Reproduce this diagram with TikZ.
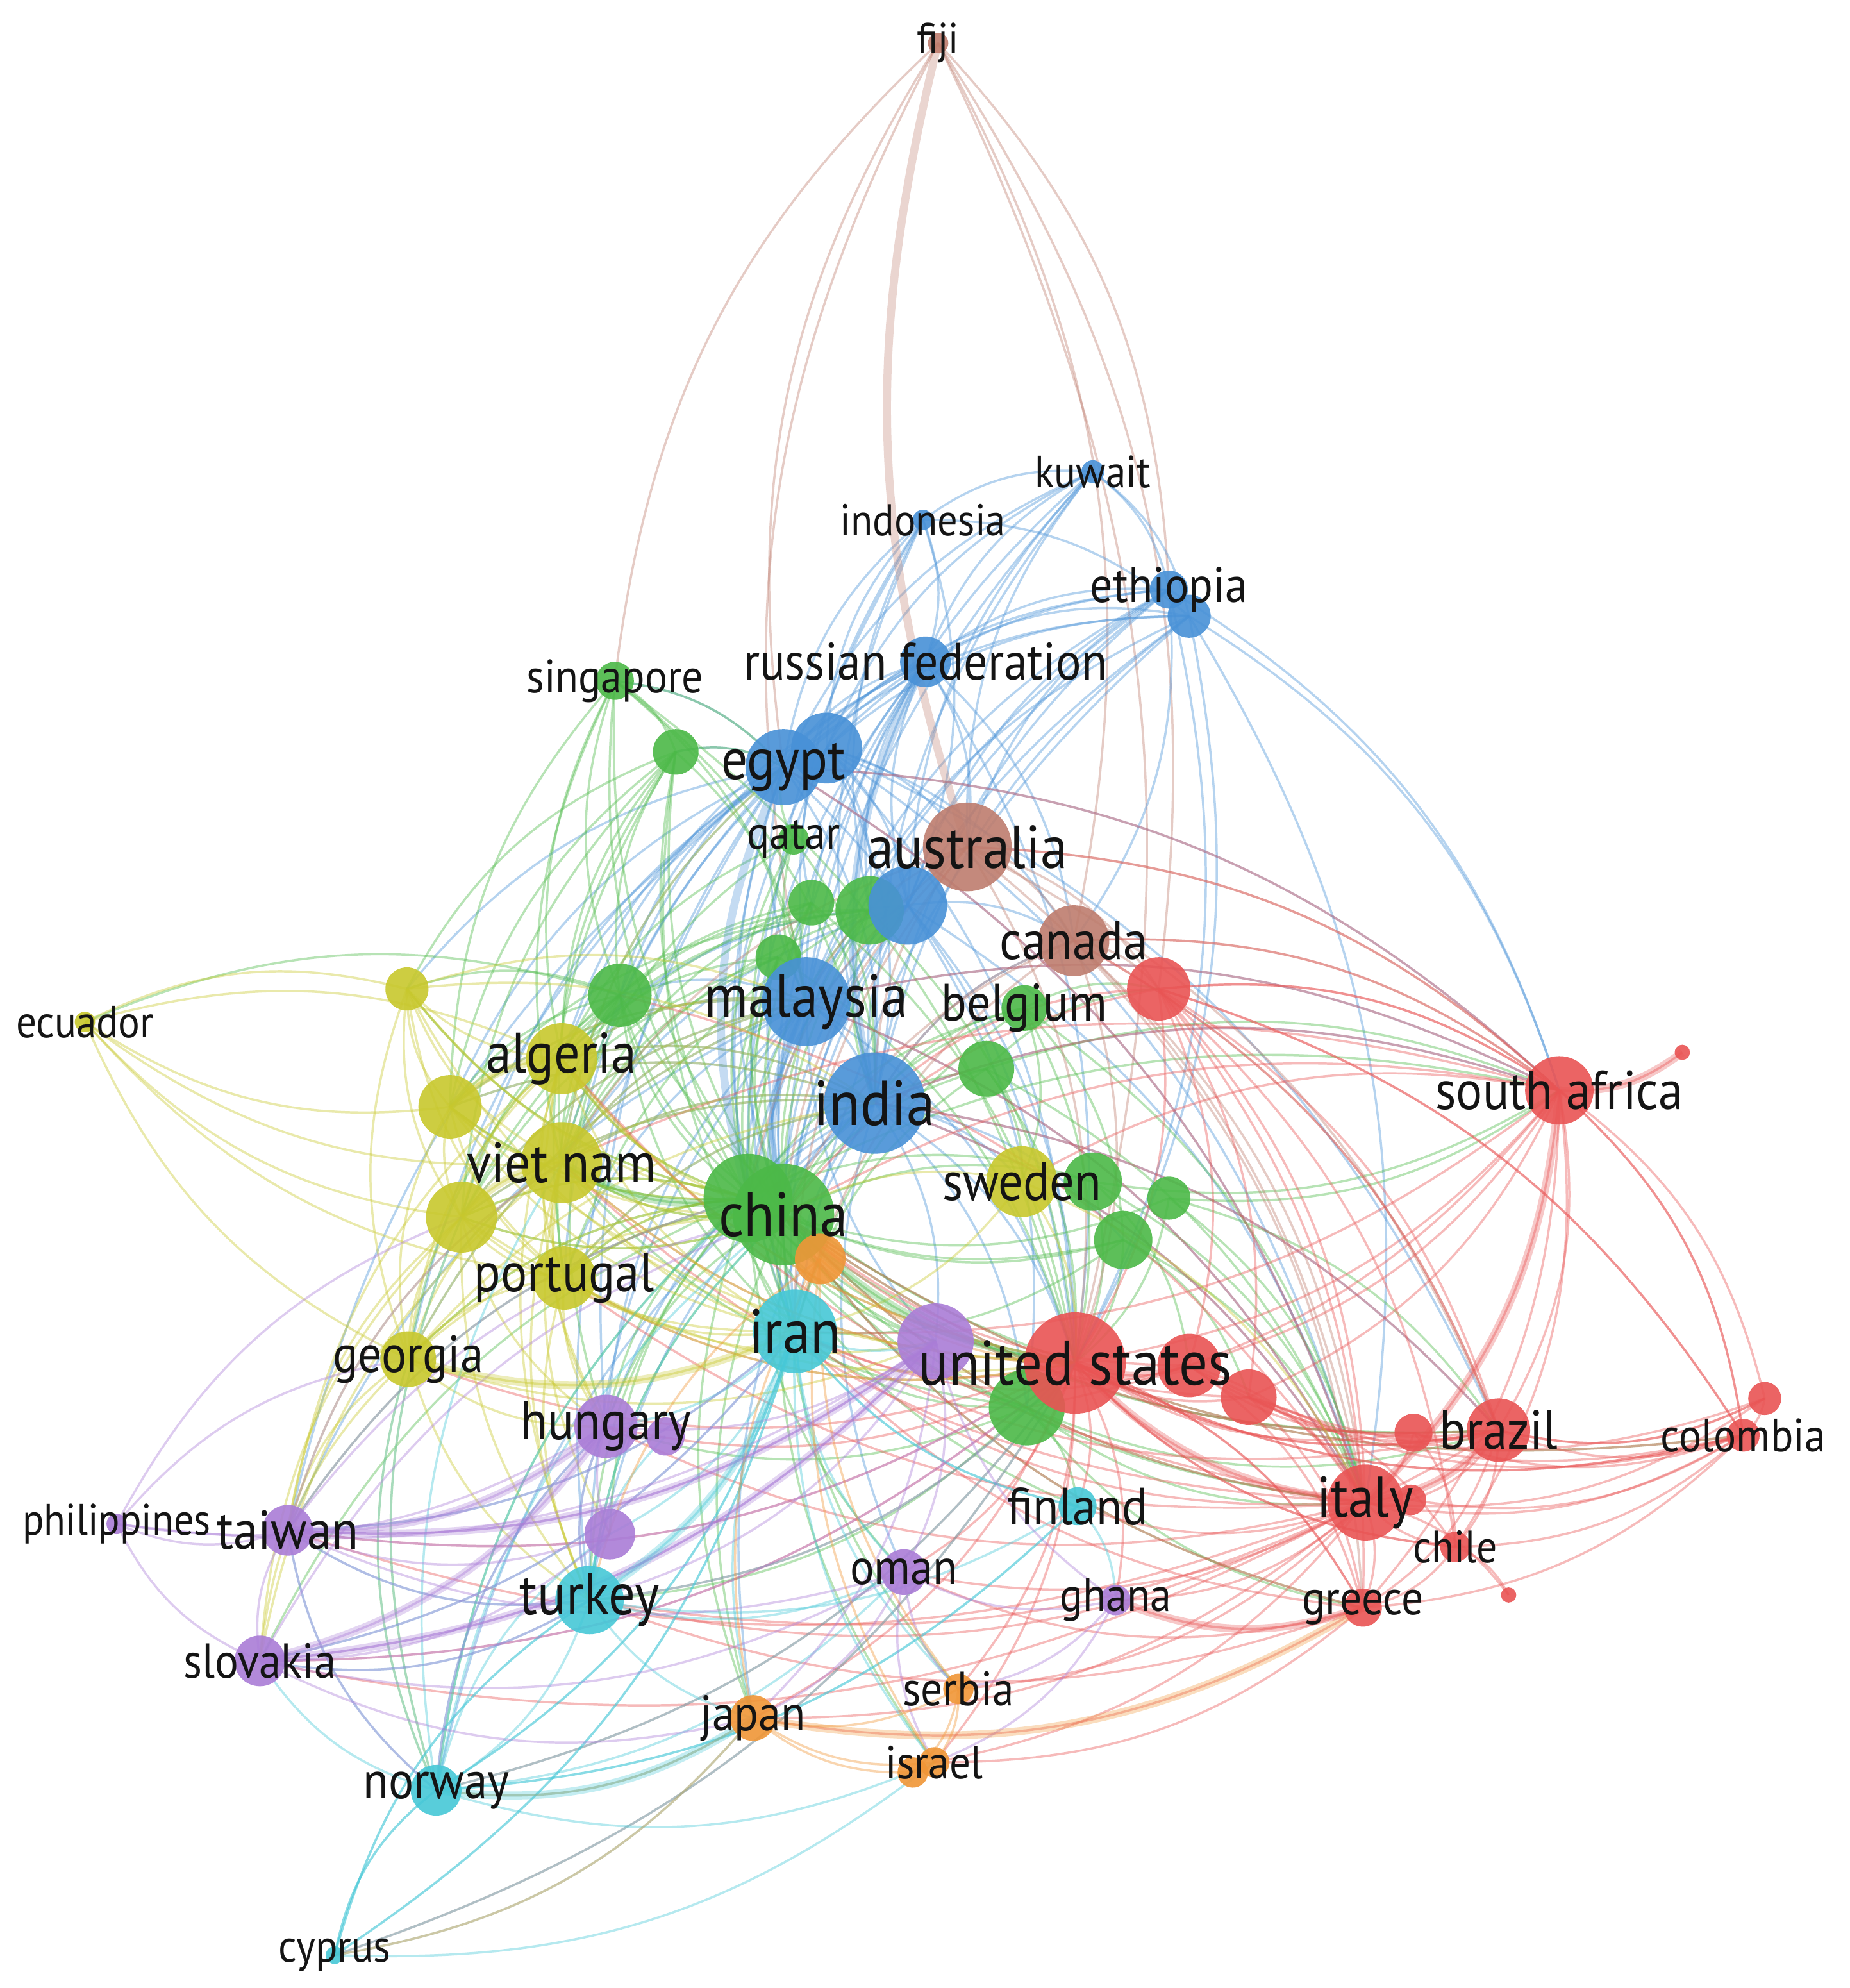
\documentclass[tikz,border=0pt]{standalone}
\usepackage{fontspec}
\setmainfont[FakeStretch=0.9]{PT Sans}
\usetikzlibrary{backgrounds,calc}
\definecolor{clRed}{RGB}{233,84,84}
\definecolor{clGreen}{RGB}{76,185,72}
\definecolor{clBlue}{RGB}{72,145,215}
\definecolor{clYellow}{RGB}{200,200,45}
\definecolor{clPurple}{RGB}{170,125,215}
\definecolor{clCyan}{RGB}{70,200,215}
\definecolor{clOrange}{RGB}{240,150,55}
\definecolor{clBrown}{RGB}{190,125,110}
\tikzset{
  bubble/.style={circle, inner sep=0pt, draw=none, fill=#1, fill opacity=0.9},
  link/.style={draw=#1, draw opacity=0.4, line width=0.5pt},
  heavy/.style={draw=#1, draw opacity=0.32, line width=1.8pt},
  lbl/.style={font=\fontsize{#1}{#1}\selectfont, text=black!92, inner sep=0pt},
}
% curved link, bulging away from the hub of the map
\newcommand{\arclink}[3]{%
  \draw[#3] let \p1=(#1.center), \p2=(#2.center), \p3=(hub),
    \n1={20*sign(scalar((\x2-\x1)/100*((\y1+\y2)/200-\y3/100)-(\y2-\y1)/100*((\x1+\x2)/200-\x3/100)))}
    in (#1.center) to[bend left=\n1] (#2.center);}
\begin{document}
\begin{tikzpicture}[x=0.1mm,y=-0.1mm]
\useasboundingbox (0,0) rectangle (1459,1568);
\coordinate (hub) at (700,950);
% bubbles
\foreach \n/\x/\y/\r/\col in {
  fiji/740/34/8/clBrown, kuwait/862/372/9/clBlue, indonesia/728/410/8/clBlue,
  eth2/938/486/17/clBlue, ethiopia/922/465/15/clBlue, russia/730/522/20/clBlue,
  egypt2/652/590/28/clBlue, egypt/618/605/30/clBlue,
  singapore/485/537/15/clGreen, g1/533/593/18/clGreen, qatar/626/662/12/clGreen,
  g2/640/712/18/clGreen, g3/686/718/27/clGreen, b1/716/714/31/clBlue,
  g4/614/755/18/clGreen, g5/489/785/25/clGreen,
  australia/763/668/35/clBrown, canada/847/742/28/clBrown, r1/914/780/25/clRed,
  malaysia/636/790/35/clBlue, belgium/808/795/18/clGreen, g6/778/843/22/clGreen,
  india/690/870/40/clBlue,
  sweden/806/932/28/clYellow, g7/862/932/23/clGreen, g8/922/945/17/clGreen, g9/886/978/23/clGreen,
  g11/590/945/35/clGreen, china/618/958/40/clGreen, o1/647/993/20/clOrange,
  southafrica/1230/860/27/clRed, r2/1327/830/6/clRed,
  ecuador/67/806/8/clYellow, y1/321/780/17/clYellow, algeria/443/835/28/clYellow,
  y2/355/873/25/clYellow, vietnam/443/917/32/clYellow, y3/364/960/28/clYellow,
  portugal/445/1008/25/clYellow, georgia/322/1072/22/clYellow,
  iran/627/1050/33/clCyan, p1/738/1058/30/clPurple, g10/810/1110/30/clGreen,
  us/848/1075/40/clRed, r3/938/1077/25/clRed, r4/985/1102/22/clRed,
  r5/1115/1130/15/clRed, brazil/1182/1128/25/clRed,
  col2/1392/1103/13/clRed, colombia/1375/1132/13/clRed,
  italy/1077/1185/30/clRed, r6/1113/1183/12/clRed, chile/1148/1220/12/clRed,
  r7/1190/1258/6/clRed, greece/1075/1268/15/clRed,
  hungary/478/1125/25/clPurple, p2/525/1133/15/clPurple, p3/481/1210/20/clPurple,
  philippines/92/1202/8/clPurple, taiwan/227/1207/20/clPurple, slovakia/205/1310/20/clPurple,
  turkey/465/1262/27/clCyan, finland/850/1188/15/clCyan, norway/344/1412/20/clCyan,
  cyprus/264/1542/7/clCyan,
  oman/713/1240/18/clPurple, ghana/880/1262/12/clPurple,
  japan/594/1355/18/clOrange, serbia/756/1332/12/clOrange,
  i2/720/1398/12/clOrange, israel/737/1390/12/clOrange}
  \node[bubble=\col, minimum size=\r*0.2mm] (\n) at (\x,\y) {};
% links
\begin{scope}[on background layer]
\fill[white] (0,0) rectangle (1459,1568);
\foreach \src/\col/\dsts in {
  fiji/clBrown/{egypt,singapore,malaysia,canada,ethiopia,r1,us},
  kuwait/clBlue/{russia,egypt,egypt2,india,malaysia,ethiopia,eth2,australia,b1,indonesia,china},
  indonesia/clBlue/{russia,egypt,malaysia,india,eth2,china,b1,g3,egypt2},
  ethiopia/clBlue/{russia,egypt,egypt2,india,malaysia,b1,southafrica,us,canada,china,australia,g11},
  eth2/clBlue/{egypt2,india,malaysia,southafrica,iran,china,italy,egypt,russia,us},
  russia/clBlue/{egypt,egypt2,india,malaysia,china,australia,b1,g3,algeria,us,iran,vietnam,g11,g5,canada},
  egypt/clBlue/{china,india,malaysia,algeria,vietnam,g5,y3,iran,us,turkey,hungary,southafrica,italy,portugal,georgia,g1,singapore,y2,y1,taiwan},
  egypt2/clBlue/{g11,india,australia,canada,us,iran,b1,italy,brazil,g3,g2},
  b1/clBlue/{china,india,malaysia,us,iran,australia,canada,g10,vietnam,g11,algeria,italy},
  malaysia/clBlue/{china,g11,india,iran,algeria,vietnam,y3,us,turkey,g5,hungary,taiwan,portugal,italy,southafrica,y2,georgia,p1},
  india/clBlue/{china,g11,us,iran,italy,turkey,sweden,g9,vietnam,algeria,y2,southafrica,brazil,hungary,oman,japan,norway,p1,y3,portugal,g10,canada},
  singapore/clGreen/{g1,egypt,china,malaysia,algeria,g5,vietnam,india,us,y2,g11},
  g1/clGreen/{china,malaysia,algeria,vietnam,y1,y2,g5,iran,egypt,g11,y3,portugal},
  qatar/clGreen/{china,malaysia,india,egypt,vietnam,g11,algeria},
  g2/clGreen/{china,india,malaysia,algeria,y3,us,g11,vietnam},
  g3/clGreen/{china,g11,us,india,iran,vietnam,algeria,portugal,g5,y2},
  g4/clGreen/{china,iran,y3,vietnam,us,g11,algeria},
  g5/clGreen/{china,vietnam,algeria,y2,y3,iran,portugal,georgia,ecuador,y1,us,hungary,g11},
  belgium/clGreen/{china,us,india,r1,italy,sweden,g9,g11,iran},
  g6/clGreen/{china,us,italy,r1,iran,sweden,g11,southafrica},
  g7/clGreen/{us,china,italy,southafrica,r3,g11},
  g8/clGreen/{us,italy,southafrica,brazil,china},
  g9/clGreen/{us,china,italy,iran,r4,g11},
  g11/clGreen/{iran,us,vietnam,algeria,y3,portugal,turkey,hungary,georgia,taiwan,slovakia,norway,japan,italy,southafrica,brazil,oman,finland,p1,g10,y2,y1,p3},
  china/clGreen/{us,iran,italy,turkey,japan,israel,serbia,greece,p1,g10,hungary,vietnam,portugal,y3,brazil,colombia},
  g10/clGreen/{us,italy,iran,turkey,hungary,brazil,greece,finland,vietnam},
  australia/clBrown/{us,canada,india,china,italy,southafrica,malaysia,iran,r1,brazil,g11,vietnam},
  canada/clBrown/{us,r1,italy,southafrica,brazil,china,iran,greece,india},
  r1/clRed/{us,italy,southafrica,brazil,colombia,r3,greece,chile,china,india,r4},
  southafrica/clRed/{us,italy,brazil,colombia,r2,r3,r4,greece,chile,g10,iran,sweden,china,india,malaysia,egypt,australia,canada,r1,vietnam},
  us/clRed/{italy,brazil,colombia,greece,chile,r3,r4,r5,iran,turkey,hungary,taiwan,slovakia,japan,israel,serbia,ghana,oman,finland,norway,georgia,portugal,vietnam,cyprus,algeria},
  r3/clRed/{italy,brazil,greece,colombia,r5,china,iran},
  r4/clRed/{italy,brazil,greece,colombia,chile,china},
  brazil/clRed/{italy,colombia,col2,chile,r5,r6,greece,us,china,india,iran,turkey,canada},
  r5/clRed/{italy,colombia,chile},
  colombia/clRed/{italy,col2,chile,r6,greece,us,southafrica,r1,china},
  col2/clRed/{italy,southafrica,r4,brazil},
  italy/clRed/{greece,chile,r6,r7,ghana,iran,turkey,hungary,japan,israel,serbia,oman,finland,slovakia,taiwan,vietnam,algeria,portugal,malaysia,india,china,egypt,g5},
  chile/clRed/{r7,greece,us},
  greece/clRed/{ghana,japan,israel,oman,us,china,iran,turkey},
  ecuador/clYellow/{y1,y2,y3,algeria,vietnam,portugal,georgia},
  y1/clYellow/{algeria,vietnam,y2,y3,portugal,georgia,iran,g11,china,india,malaysia},
  algeria/clYellow/{vietnam,y2,y3,portugal,georgia,iran,turkey,hungary,us,taiwan,china,g11,malaysia,india},
  y2/clYellow/{vietnam,y3,portugal,georgia,iran,us,china,g11,malaysia,india},
  vietnam/clYellow/{y3,portugal,georgia,iran,turkey,hungary,us,taiwan,slovakia,p3,china,india,malaysia,egypt},
  y3/clYellow/{portugal,georgia,iran,turkey,hungary,us,taiwan,slovakia,norway,china,g11,india,malaysia},
  portugal/clYellow/{georgia,iran,hungary,turkey,us,p1,china,g11,india},
  georgia/clYellow/{hungary,turkey,iran,taiwan,slovakia,norway,p1,china,g11,india,malaysia},
  sweden/clYellow/{us,italy,iran,china},
  iran/clCyan/{turkey,hungary,p1,p3,taiwan,slovakia,norway,japan,oman,finland,cyprus,serbia,israel},
  turkey/clCyan/{norway,hungary,p3,taiwan,slovakia,cyprus,japan,oman,p2,us,china},
  finland/clCyan/{ghana,turkey,iran,norway},
  norway/clCyan/{cyprus,japan,slovakia,taiwan,israel,hungary,iran,china,g11,us,p3,vietnam,y3,georgia,oman,finland},
  cyprus/clCyan/{turkey,iran,japan,israel,us,norway},
  p1/clPurple/{hungary,turkey,taiwan,oman,ghana,japan,slovakia},
  hungary/clPurple/{p2,p3,taiwan,slovakia,philippines,turkey,norway},
  p3/clPurple/{taiwan,slovakia},
  taiwan/clPurple/{philippines,slovakia,norway,iran,us,china,g11,p1,vietnam,turkey,oman},
  slovakia/clPurple/{turkey,iran,us,china,p1,oman,japan},
  philippines/clPurple/{slovakia,y3,georgia,p1},
  oman/clPurple/{japan,israel,serbia,ghana},
  ghana/clPurple/{israel,serbia},
  o1/clOrange/{us,iran,japan,israel,serbia,turkey},
  japan/clOrange/{israel,serbia,i2,norway,cyprus},
  serbia/clOrange/{israel,i2},
  israel/clOrange/{i2}}
  {\foreach \dst in \dsts {\arclink{\src}{\dst}{link=\col}}}
% stronger links
\foreach \src/\dst/\col in {
  egypt/g11/clBlue, malaysia/china/clBlue, g11/vietnam/clGreen,
  y3/vietnam/clYellow, algeria/y2/clYellow, georgia/iran/clYellow, hungary/taiwan/clPurple,
  slovakia/hungary/clPurple, slovakia/p1/clPurple, taiwan/p1/clPurple,
  norway/japan/clCyan, japan/greece/clOrange, us/italy/clRed, italy/brazil/clRed,
  southafrica/italy/clRed, southafrica/r2/clRed, iran/turkey/clCyan, greece/ghana/clRed,
  us/r3/clRed, china/us/clGreen, russia/india/clBlue}
  {\arclink{\src}{\dst}{heavy=\col}}
\draw[heavy=clBrown] (fiji.center) to[bend right=16] (australia.center);
\end{scope}
% labels
\foreach \n/\txt/\s in {
  fiji/fiji/9.7, kuwait/kuwait/10.1, indonesia/indonesia/10, ethiopia/ethiopia/11.2,
  russia/russian federation/11.8, egypt/egypt/13, singapore/singapore/10.5, qatar/qatar/10.5,
  australia/australia/13.6, canada/canada/12.2, malaysia/malaysia/13.6, belgium/belgium/11.8,
  india/india/14.3, ecuador/ecuador/10.1, algeria/algeria/12.8, vietnam/viet nam/12.7,
  southafrica/south africa/12.3, sweden/sweden/12.2, china/china/14, portugal/portugal/12.3,
  iran/iran/13.9, georgia/georgia/11.7, us/united states/14.2, hungary/hungary/12.2,
  brazil/brazil/12.4, colombia/colombia/10.5, italy/italy/12.9, philippines/philippines/9.9,
  taiwan/taiwan/12.3, finland/finland/11.8, chile/chile/10.2, oman/oman/11.2,
  turkey/turkey/13.2, ghana/ghana/10.6, greece/greece/10.8, slovakia/slovakia/11,
  serbia/serbia/10.8, japan/japan/11.2, israel/israel/10.4, norway/norway/11.7,
  cyprus/cyprus/10.2}
  \node[lbl=\s] (\n-l) at (\n) {\txt};
\end{tikzpicture}
\end{document}
